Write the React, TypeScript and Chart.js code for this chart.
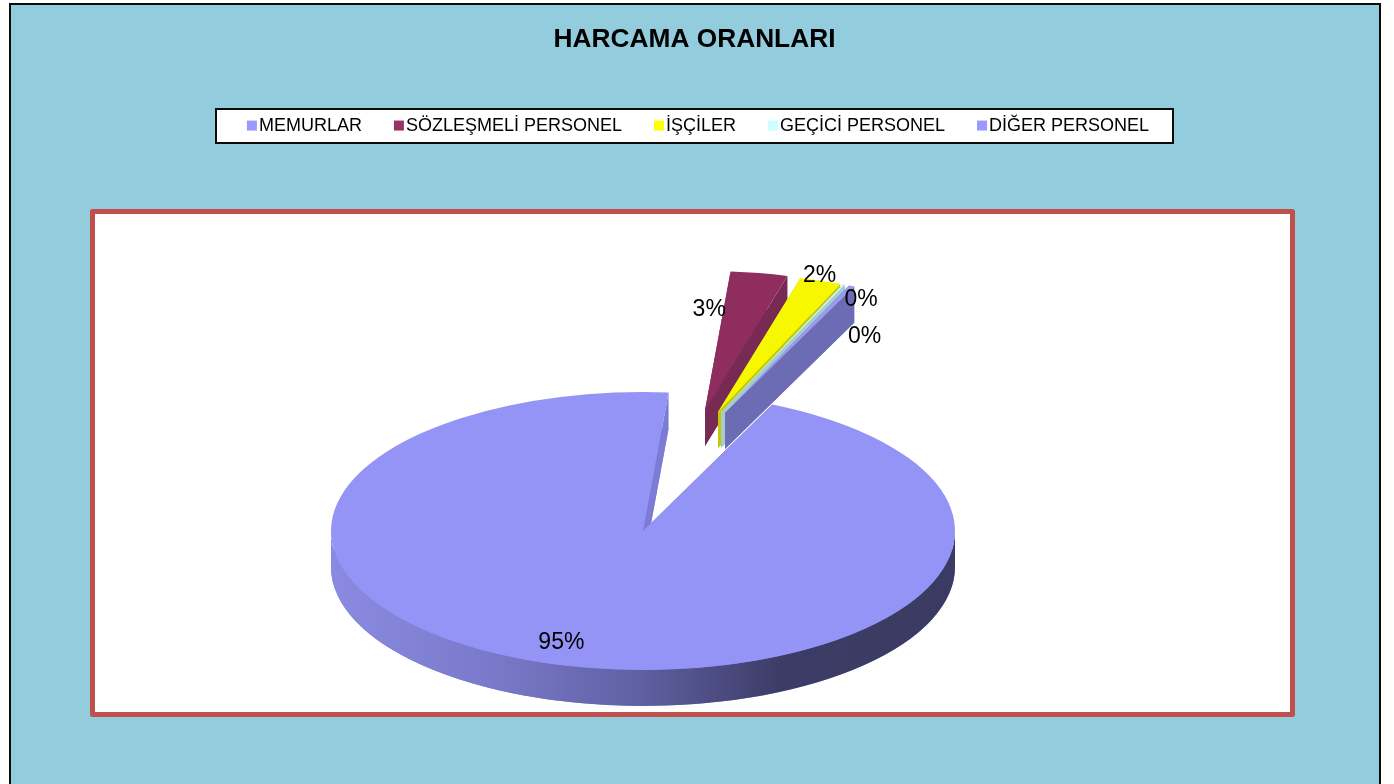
import React, { useEffect, useRef } from "react";
import { Chart, registerables } from "chart.js";

Chart.register(...registerables);

// ---- data ----
const categories = ["MEMURLAR", "SÖZLEŞMELİ PERSONEL", "İŞÇİLER", "GEÇİCİ PERSONEL", "DİĞER PERSONEL"];
const percentages = [94.5, 2.95, 2.15, 0.1, 0.3];

// ---- styles ----
const topColors = ["#9494F7", "#8F2E5E", "#F7F700", "#C8F8F8", "#9A9AF0"];
const wallColors = ["#7C7CD4", "#772B54", "#C8C800", "#A6CCCC", "#6C6CB4"];
const swatchColors = ["#9999FF", "#993366", "#FFFF00", "#CCFFFF", "#9999FF"];
const sliceShiftX = [0, 62, 75, 78, 82];
const sliceShiftY = [0, -121, -119, -119, -118];
const labelNudgeX = [-3, -50, -1, 17, 13];
const labelNudgeY = [-23, 37, -5, 15, 51];
const FONT = '"Liberation Sans", Arial, sans-serif';
const PIE_X = 643;
const PIE_Y = 531;
const SQUASH = 0.4455;
const DEPTH = 36;

const piePlugin = {
  id: "pie3d",
  beforeDraw(chart: any) {
    const { ctx } = chart;
    ctx.save();
    ctx.fillStyle = "#93CDDD";
    ctx.fillRect(10, 4, 1370, 790);
    ctx.strokeStyle = "#0A0A0A";
    ctx.lineWidth = 2;
    ctx.strokeRect(10, 4, 1370, 790);
    ctx.fillStyle = "#FFFFFF";
    ctx.strokeStyle = "#C0504D";
    ctx.lineWidth = 5;
    ctx.lineJoin = "round";
    ctx.fillRect(92.5, 211.5, 1200, 503);
    ctx.strokeRect(92.5, 211.5, 1200, 503);
    ctx.lineJoin = "miter";
    ctx.fillStyle = "#FFFFFF";
    ctx.strokeStyle = "#0A0A0A";
    ctx.lineWidth = 2;
    ctx.fillRect(216, 109, 957, 34);
    ctx.strokeRect(216, 109, 957, 34);
    ctx.restore();
  },
  beforeDatasetDraw(chart: any, args: any) {
    const { ctx } = chart;
    const arcs = chart.getDatasetMeta(args.index).data;
    arcs.forEach((arc: any, i: number) => {
      const cx = PIE_X + sliceShiftX[i];
      const cy = PIE_Y + sliceShiftY[i];
      const R = arc.outerRadius;
      const rim = (angle: number, dy: number): [number, number] => [
        cx + Math.cos(angle) * R,
        cy + dy + Math.sin(angle) * R * SQUASH,
      ];
      const fillPoly = (pts: [number, number][]) => {
        ctx.beginPath();
        pts.forEach((p, k) => (k ? ctx.lineTo(p[0], p[1]) : ctx.moveTo(p[0], p[1])));
        ctx.closePath();
        ctx.fill();
      };
      ctx.save();
      ctx.fillStyle = wallColors[i];
      // bottom face
      ctx.beginPath();
      ctx.moveTo(cx, cy + DEPTH);
      ctx.ellipse(cx, cy + DEPTH, R, R * SQUASH, 0, arc.startAngle, arc.endAngle);
      ctx.closePath();
      ctx.fill();
      // the two cut walls
      [arc.startAngle, arc.endAngle].forEach((angle: number) => {
        fillPoly([[cx, cy], rim(angle, 0), rim(angle, DEPTH), [cx, cy + DEPTH]]);
      });
      // shaded outer wall on the front half
      const a = Math.max(arc.startAngle, 0);
      const b = Math.min(arc.endAngle, Math.PI);
      if (b > a) {
        const g = ctx.createLinearGradient(cx - R, 0, cx + R, 0);
        g.addColorStop(0, "#8A8AE2");
        g.addColorStop(0.25, "#7A7ACB");
        g.addColorStop(0.5, "#5F5FA2");
        g.addColorStop(0.72, "#3C3C66");
        g.addColorStop(1, "#3A3A62");
        ctx.fillStyle = g;
        ctx.beginPath();
        ctx.ellipse(cx, cy, R, R * SQUASH, 0, a, b);
        ctx.ellipse(cx, cy + DEPTH, R, R * SQUASH, 0, b, a, true);
        ctx.closePath();
        ctx.fill();
      }
      ctx.restore();
      // top face, drawn by the library's arc element
      ctx.save();
      ctx.translate(cx, cy);
      ctx.scale(1, SQUASH);
      ctx.translate(-arc.x, -arc.y);
      arc.draw(ctx);
      ctx.restore();
    });
    return false;
  },
  afterDraw(chart: any) {
    const { ctx } = chart;
    const arcs = chart.getDatasetMeta(0).data;
    ctx.save();
    // legend swatches
    (chart.legend.legendHitBoxes || []).forEach((box: any, i: number) => {
      ctx.fillStyle = swatchColors[i];
      ctx.fillRect(box.left + 7, box.top + box.height / 2 - 5, 10, 10);
    });
    // percentage labels
    const total = percentages.reduce((s, v) => s + v, 0);
    ctx.fillStyle = "#000000";
    ctx.font = `23px ${FONT}`;
    ctx.textAlign = "center";
    ctx.textBaseline = "middle";
    arcs.forEach((arc: any, i: number) => {
      const mid = (arc.startAngle + arc.endAngle) / 2;
      const x = PIE_X + sliceShiftX[i] + Math.cos(mid) * arc.outerRadius + labelNudgeX[i];
      const y = PIE_Y + sliceShiftY[i] + Math.sin(mid) * arc.outerRadius * SQUASH + labelNudgeY[i];
      ctx.fillText(`${Math.round((percentages[i] / total) * 100)}%`, x, y);
    });
    ctx.restore();
  },
};

export default function App() {
  const ref = useRef<HTMLCanvasElement>(null);
  useEffect(() => {
    const chart = new Chart(ref.current as HTMLCanvasElement, {
      type: "pie",
      data: {
        labels: categories,
        datasets: [{ data: percentages, backgroundColor: topColors, borderWidth: 0 }],
      },
      options: {
        responsive: false,
        animation: false,
        rotation: 24.5,
        radius: 312,
        plugins: {
          title: {
            display: true,
            text: "HARCAMA ORANLARI",
            color: "#000000",
            font: { family: FONT, size: 26.3, weight: "bold" },
            padding: { top: 24, bottom: 36 },
          },
          legend: {
            display: true,
            position: "top",
            labels: {
              boxWidth: 10,
              boxHeight: 10,
              padding: 25,
              color: "#000000",
              font: { family: FONT, size: 18 },
              generateLabels: () =>
                categories.map((text, index) => ({
                  text,
                  index,
                  fillStyle: "rgba(0,0,0,0)",
                  strokeStyle: "rgba(0,0,0,0)",
                  lineWidth: 0,
                  fontColor: "#000000",
                })),
            },
          },
          tooltip: { enabled: false },
        },
      } as any,
      plugins: [piePlugin as any],
    });
    return () => chart.destroy();
  }, []);
  return (
    <div style={{ position: "absolute", left: 0, top: 0 }}>
      <canvas ref={ref} width={1389} height={784} style={{ display: "block" }} />
    </div>
  );
}
